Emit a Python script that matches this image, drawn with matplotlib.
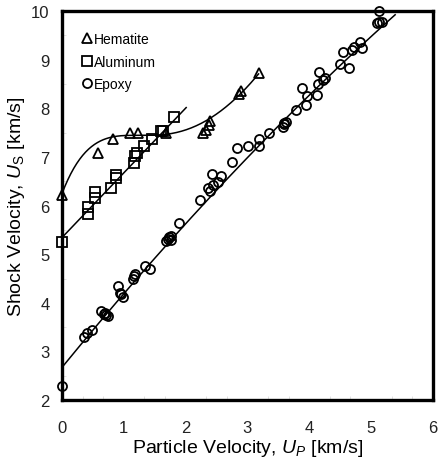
import numpy as np
import matplotlib
matplotlib.use("Agg")
import matplotlib.pyplot as plt

plt.rcParams["font.family"] = ["Liberation Sans", "DejaVu Sans"]
plt.rcParams["mathtext.fontset"] = "custom"
plt.rcParams["mathtext.rm"] = "Liberation Sans"
plt.rcParams["mathtext.it"] = "Liberation Sans:italic"

# hematite data (Up, Us) in km/s
hem_up = [0.0, 0.59, 0.83, 1.10, 1.23, 1.69, 2.29, 2.33, 2.38, 2.40, 2.87, 2.89, 3.18]
hem_us = [6.21, 7.09, 7.37, 7.50, 7.50, 7.50, 7.50, 7.55, 7.65, 7.74, 8.30, 8.36, 8.72]
# hematite fit curve
hem_fit_up = [0.0, 0.10, 0.21, 0.37, 0.53, 0.75, 0.97, 1.29, 1.61, 1.94, 2.26, 2.45, 2.66, 2.88, 3.04, 3.18]
hem_fit_us = [6.23, 6.54, 6.82, 7.09, 7.26, 7.37, 7.42, 7.45, 7.48, 7.54, 7.64, 7.85, 8.05, 8.29, 8.50, 8.70]

# aluminum
al_up = [0.0, 0.43, 0.42, 0.53, 0.54, 0.80, 0.88, 0.87, 1.17, 1.18, 1.21, 1.33, 1.45, 1.60, 1.64, 1.82]
al_us = [5.25, 5.82, 5.96, 6.28, 6.15, 6.37, 6.63, 6.56, 6.87, 7.02, 7.09, 7.23, 7.37, 7.54, 7.54, 7.81]
al_fit = [5.34, 1.33]          # Us = c0 + s*Up
al_fit_range = [0.0, 2.01]

# epoxy
ep_up = [0.0, 0.35, 0.41, 0.49, 0.63, 0.68, 0.70, 0.72, 0.75, 0.91, 0.94, 0.96, 0.99,
         1.15, 1.17, 1.19, 1.35, 1.42, 1.69, 1.72, 1.74, 1.77, 1.76, 1.90,
         2.23, 2.37, 2.39, 2.42, 2.45, 2.53, 2.58, 2.75, 2.84, 3.01, 3.18, 3.19, 3.35,
         3.58, 3.60, 3.62, 3.59, 3.79, 3.89, 3.95, 3.97, 4.12, 4.15, 4.16, 4.26, 4.22,
         4.50, 4.55, 4.65, 4.69, 4.72, 4.82, 4.86, 5.09, 5.13, 5.17, 5.13]
ep_us = [2.29, 3.30, 3.37, 3.44, 3.83, 3.78, 3.80, 3.76, 3.73, 4.35, 4.21, 4.18, 4.11,
         4.50, 4.55, 4.60, 4.76, 4.69, 5.27, 5.31, 5.35, 5.38, 5.30, 5.65,
         6.12, 6.37, 6.30, 6.65, 6.42, 6.48, 6.61, 6.90, 7.18, 7.22, 7.23, 7.37, 7.49,
         7.62, 7.67, 7.72, 7.70, 7.96, 8.41, 8.07, 8.26, 8.27, 8.50, 8.74, 8.62, 8.58,
         8.91, 9.16, 8.83, 9.20, 9.25, 9.37, 9.23, 9.75, 9.77, 9.77, 9.99]
ep_fit = [2.67, 1.554, -0.0387]   # Us = a + b*Up + c*Up^2
ep_fit_range = [0.0, 5.39]

fig = plt.figure(figsize=(4.39, 4.60), dpi=100)
ax = fig.add_axes([0.141, 0.128, 0.845, 0.846])

mk = dict(linestyle="none", markerfacecolor="none", markeredgecolor="black",
          markeredgewidth=1.3, markersize=6.5, clip_on=False)

# fit lines
c = np.polyfit(hem_fit_up, hem_fit_us, 5)
x = np.linspace(hem_fit_up[0], hem_fit_up[-1], 200)
ax.plot(x, np.polyval(c, x), color="black", lw=1.1)

x = np.linspace(al_fit_range[0], al_fit_range[1], 50)
ax.plot(x, al_fit[0] + al_fit[1] * x, color="black", lw=1.1)

x = np.linspace(ep_fit_range[0], ep_fit_range[1], 200)
ax.plot(x, ep_fit[0] + ep_fit[1] * x + ep_fit[2] * x ** 2, color="black", lw=1.1)

ax.plot(hem_up, hem_us, marker="^", label="Hematite", **mk)
ax.plot(al_up, al_us, marker="s", label="Aluminum", **mk)
ax.plot(ep_up, ep_us, marker="o", label="Epoxy", **mk)

ax.set_xlim(0, 6)
ax.set_ylim(2, 10)
ax.set_xticks(range(0, 7))
ax.set_yticks(range(2, 11))
ax.set_xticks(np.arange(0, 6.01, 1 / 3), minor=True)
ax.set_yticks(np.arange(2, 10.01, 0.5), minor=True)
ax.tick_params(which="major", length=0, labelsize=12, colors="#222222")
ax.tick_params(axis="x", which="major", pad=14)
ax.tick_params(axis="y", which="major", pad=9)
ax.tick_params(which="minor", direction="in", length=3, color="#dddddd")
for s in ax.spines.values():
    s.set_linewidth(2.4)

ax.set_xlabel(r"Particle Velocity, $\mathit{U}_{\mathit{P}}$ [km/s]", fontsize=14, labelpad=2)
ax.set_ylabel(r"Shock Velocity, $\mathit{U}_{\mathrm{S}}$ [km/s]", fontsize=14, labelpad=3)

ax.legend(loc="upper left", bbox_to_anchor=(0.03, 0.97), frameon=False, fontsize=10,
          handlelength=0.6, handletextpad=0.2, labelspacing=0.6, borderpad=0.2)

fig.savefig("out.png", dpi=100)
